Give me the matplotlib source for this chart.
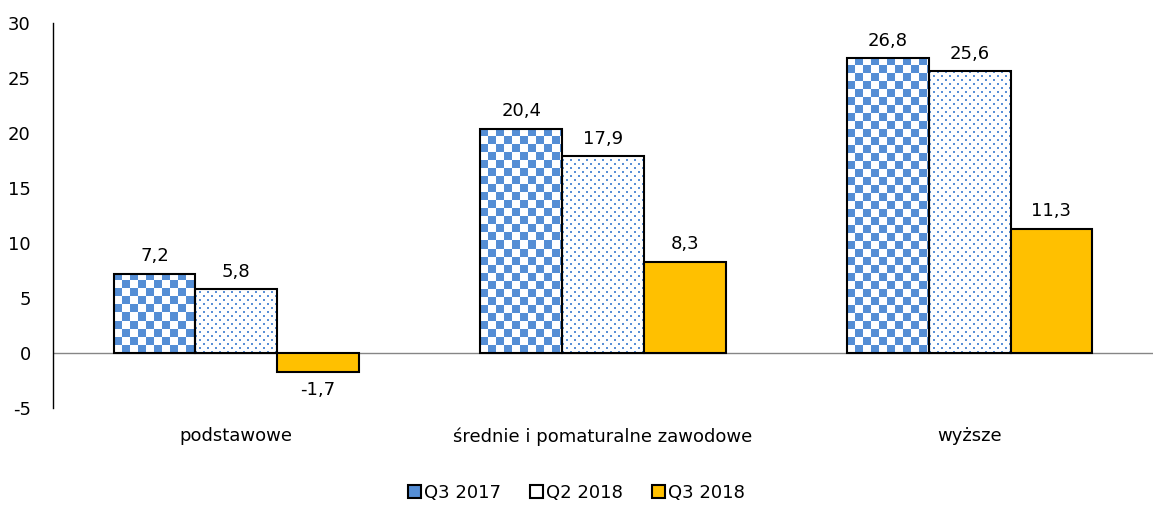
import numpy as np
import matplotlib.pyplot as plt
from matplotlib.patches import Patch
from matplotlib.colors import ListedColormap

categories = ["podstawowe", "średnie i pomaturalne zawodowe", "wyższe"]
series = ["Q3 2017", "Q2 2018", "Q3 2018"]
q3_2017 = [7.2, 20.4, 26.8]
q2_2018 = [5.8, 17.9, 25.6]
q3_2018 = [-1.7, 8.3, 11.3]

blue = "#558ED5"
orange = "#FFC000"

plt.rcParams["axes.unicode_minus"] = False

fig = plt.figure(figsize=(11.53, 5.09), dpi=100)
ax = fig.add_axes([53 / 1153, 101 / 509, 1 - 53 / 1153, 385 / 509])

x = np.arange(len(categories))
w = 0.223

ax.set_xlim(-0.5, 2.5)
ax.set_ylim(-5, 30)


def fill_pattern(bars, kind):
    # pixel pattern image clipped to each bar
    for bar in bars:
        x0, y0 = bar.get_x(), min(0, bar.get_height())
        x1, y1 = x0 + bar.get_width(), y0 + abs(bar.get_height())
        p0 = ax.transData.transform((x0, y0))
        p1 = ax.transData.transform((x1, y1))
        nx = max(1, int(round(p1[0] - p0[0])))
        ny = max(1, int(round(p1[1] - p0[1])))
        r, c = np.meshgrid(np.arange(ny), np.arange(nx), indexing="ij")
        if kind == "checker":
            img = ((r // 8 + c // 8) % 2).astype(float)
            cmap = ListedColormap(["white", blue])
        else:
            img = (((r % 8 < 2) & (c % 8 < 2)) | (((r - 4) % 8 < 2) & ((c - 4) % 8 < 2))).astype(float)
            cmap = ListedColormap(["white", "#5A90D6"])
        im = ax.imshow(img[::-1], extent=(x0, x1, y0, y1), cmap=cmap, vmin=0, vmax=1,
                       aspect="auto", interpolation="nearest", zorder=2)
        im.set_clip_path(bar)


b1 = ax.bar(x - w, q3_2017, w, facecolor="none", edgecolor="black", linewidth=1.5, zorder=3)
fill_pattern(b1, "checker")
b2 = ax.bar(x, q2_2018, w, facecolor="none", edgecolor="black", linewidth=1.5, zorder=3)
fill_pattern(b2, "dots")
ax.bar(x + w, q3_2018, w, facecolor=orange, edgecolor="black", linewidth=1.5, zorder=3)

for vals, off in [(q3_2017, -w), (q2_2018, 0), (q3_2018, w)]:
    for xi, v in zip(x, vals):
        lbl = f"{v:.1f}".replace(".", ",")
        if v >= 0:
            ax.annotate(lbl, (xi + off, v), xytext=(0, 6), textcoords="offset points",
                        ha="center", va="bottom", fontsize=13)
        else:
            ax.annotate(lbl, (xi + off, v), xytext=(0, -7), textcoords="offset points",
                        ha="center", va="top", fontsize=13)

ax.axhline(0, color="#868686", linewidth=1, zorder=1)

ax.set_yticks(range(-5, 31, 5))
ax.set_xticks(x)
ax.set_xticklabels(categories)
ax.tick_params(axis="y", length=0, pad=16, labelsize=13)
ax.tick_params(axis="x", length=0, pad=14, labelsize=13)
for s in ["top", "right", "bottom"]:
    ax.spines[s].set_visible(False)
ax.spines["left"].set_linewidth(1)

handles = [
    Patch(facecolor=blue, edgecolor="black", linewidth=1.5),
    Patch(facecolor="white", edgecolor="black", linewidth=1.5),
    Patch(facecolor=orange, edgecolor="black", linewidth=1.5),
]
fig.legend(handles, series, loc="center", bbox_to_anchor=(0.5, 1 - 493 / 509), ncol=3,
           frameon=False, fontsize=13, handlelength=0.7, handleheight=0.7,
           handletextpad=0.2, columnspacing=1.6)

fig.savefig("out.png", dpi=100)
